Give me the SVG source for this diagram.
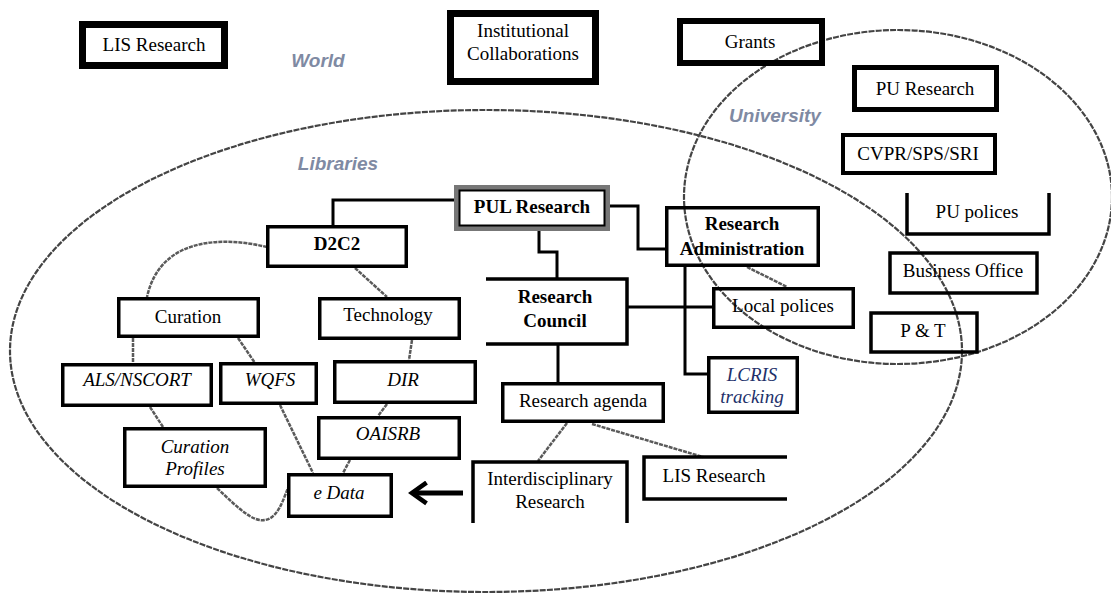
<svg xmlns="http://www.w3.org/2000/svg" width="1111" height="594" viewBox="0 0 1111 594">
<style>
  .bg{fill:#fff}
  .region{fill:none;stroke:#444;stroke-width:2.2;stroke-dasharray:6 1.2}
  .rlabel{font-family:"Liberation Sans",Arial,sans-serif;font-weight:bold;font-style:italic;font-size:19px;fill:#7f8aa3;text-anchor:middle}
  .box{fill:none;stroke:#000;stroke-width:3.5}
  .thick{fill:none;stroke:#000;stroke-width:7}
  .t{font-family:"Liberation Serif","Times New Roman",serif;font-size:19px;fill:#000;text-anchor:middle}
  .b{font-weight:bold}
  .i{font-style:italic}
  .tree{fill:none;stroke:#000;stroke-width:3}
  .soft{fill:none;stroke:#5a5a5a;stroke-width:2.5;stroke-dasharray:4 1}
  .arrow{fill:none;stroke:#000;stroke-width:5}
</style>
<defs>
  <marker id="chev" viewBox="0 0 12 12" refX="9.5" refY="6" markerWidth="5" markerHeight="5" markerUnits="strokeWidth" orient="auto">
    <path d="M3,1 L10,6 L3,11" fill="none" stroke="#000" stroke-width="2.2"/>
  </marker>
</defs>
<rect class="bg" x="0" y="0" width="1111" height="594"/>

<g id="regions">
  <ellipse class="region" cx="486" cy="351" rx="476" ry="241"/>
  <ellipse class="region" cx="898" cy="197" rx="214" ry="167"/>
  <text class="rlabel" x="318" y="67">World</text>
  <text class="rlabel" x="338" y="170">Libraries</text>
  <text class="rlabel" x="775" y="122">University</text>
</g>

<g id="connectors">
  <path class="tree" d="M455,200 H333 V226"/>
  <path class="tree" d="M610,206 H638 V249 H665"/>
  <path class="tree" d="M539,231 V252 H557 V279"/>
  <path class="tree" d="M627,307 H712"/>
  <path class="tree" d="M558,344 V382"/>
  <path class="tree" d="M685,267 V374 H707"/>
  <path class="soft" d="M267,247 C220,236 160,238 147,297"/>
  <path class="soft" d="M355,268 L387,297"/>
  <path class="soft" d="M133,338 L133,363"/>
  <path class="soft" d="M238,338 L255,363"/>
  <path class="soft" d="M412,340 L409,360"/>
  <path class="soft" d="M150,407 L163,427"/>
  <path class="soft" d="M280,405 L313,473"/>
  <path class="soft" d="M387,404 L378,416"/>
  <path class="soft" d="M350,460 L343,473"/>
  <path class="soft" d="M217,488 C240,510 253,522 265,520 C278,518 283,500 288,488"/>
  <path class="soft" d="M567,423 L538,461"/>
  <path class="soft" d="M592,424 L703,457"/>
  <path class="soft" d="M747,267 L787,287"/>
  <path class="arrow" d="M463,493 H413" marker-end="url(#chev)"/>
</g>

<g id="lis-research-top">
  <rect class="thick" x="82.5" y="24.5" width="142" height="41"/>
  <text class="t" x="154" y="51">LIS Research</text>
</g>
<g id="institutional-collaborations">
  <rect class="thick" x="450.5" y="13.5" width="145" height="68"/>
  <text class="t" x="523" y="37">Institutional</text>
  <text class="t" x="523" y="60">Collaborations</text>
</g>
<g id="grants">
  <rect class="box" x="680" y="21" width="142" height="42" style="stroke-width:6"/>
  <text class="t" x="750" y="48">Grants</text>
</g>
<g id="pu-research">
  <rect class="box" x="854.5" y="67.5" width="142" height="42" style="stroke-width:5"/>
  <text class="t" x="925" y="95">PU Research</text>
</g>
<g id="cvpr">
  <rect class="box" x="843" y="135" width="152" height="38" style="stroke-width:4"/>
  <text class="t" x="918" y="160">CVPR/SPS/SRI</text>
</g>
<g id="pu-polices">
  <path class="box" d="M907,193 V234 H1049 V193"/>
  <text class="t" x="977" y="218">PU polices</text>
</g>
<g id="business-office">
  <rect class="box" x="890" y="253" width="147" height="40"/>
  <text class="t" x="963" y="277">Business Office</text>
</g>
<g id="p-and-t">
  <rect class="box" x="871" y="313" width="106" height="39"/>
  <text class="t" x="923" y="337">P &amp; T</text>
</g>
<g id="pul-research">
  <rect x="456.5" y="187.5" width="151" height="41" fill="none" stroke="#777" stroke-width="5"/>
  <rect x="459.5" y="190.5" width="145" height="35" fill="none" stroke="#000" stroke-width="2"/>
  <text class="t b" x="532" y="213">PUL Research</text>
</g>
<g id="d2c2">
  <rect class="box" x="267.75" y="226.75" width="138.5" height="39.5"/>
  <text class="t b" x="337" y="250">D2C2</text>
</g>
<g id="research-administration">
  <rect class="box" x="666.75" y="207.75" width="151.5" height="57.5"/>
  <text class="t b" x="742" y="230">Research</text>
  <text class="t b" x="742" y="255">Administration</text>
</g>
<g id="research-council">
  <path class="box" d="M486,279 H627 V344 H486"/>
  <text class="t b" x="555" y="303">Research</text>
  <text class="t b" x="555" y="327">Council</text>
</g>
<g id="local-polices">
  <rect class="box" x="713.75" y="288.75" width="139.5" height="38.5"/>
  <text class="t" x="783" y="312">Local polices</text>
</g>
<g id="lcris-tracking">
  <rect class="box" x="708.75" y="357.75" width="88.5" height="54.5"/>
  <text class="t i" x="752" y="381" style="fill:#22306a">LCRIS</text>
  <text class="t i" x="752" y="403" style="fill:#22306a">tracking</text>
</g>
<g id="research-agenda">
  <rect class="box" x="502.75" y="383.75" width="160.5" height="37.5"/>
  <text class="t" x="583" y="407">Research agenda</text>
</g>
<g id="interdisciplinary-research">
  <path class="box" d="M473,523 V462 H627 V523"/>
  <text class="t" x="550" y="485">Interdisciplinary</text>
  <text class="t" x="550" y="508">Research</text>
</g>
<g id="lis-research-bottom">
  <path class="box" d="M787,457 H644 V499 H787"/>
  <text class="t" x="714" y="482">LIS Research</text>
</g>
<g id="curation">
  <rect class="box" x="118.75" y="298.75" width="139.5" height="37.5"/>
  <text class="t" x="188" y="323">Curation</text>
</g>
<g id="technology">
  <rect class="box" x="319.75" y="298.75" width="139.5" height="39.5"/>
  <text class="t" x="388" y="321">Technology</text>
</g>
<g id="als-nscort">
  <rect class="box" x="62.75" y="364.75" width="148.5" height="40.5"/>
  <text class="t i" x="137" y="386">ALS/NSCORT</text>
</g>
<g id="wqfs">
  <rect class="box" x="220.75" y="363.75" width="95.5" height="39.5"/>
  <text class="t i" x="270" y="386">WQFS</text>
</g>
<g id="dir">
  <rect class="box" x="334.75" y="361.75" width="140.5" height="40.5"/>
  <text class="t i" x="403" y="386">DIR</text>
</g>
<g id="curation-profiles">
  <rect class="box" x="124.75" y="428.75" width="140.5" height="57.5"/>
  <text class="t i" x="195" y="453">Curation</text>
  <text class="t i" x="195" y="475">Profiles</text>
</g>
<g id="oaisrb">
  <rect class="box" x="318.75" y="417.75" width="140.5" height="40.5"/>
  <text class="t i" x="388" y="440">OAISRB</text>
</g>
<g id="e-data">
  <rect class="box" x="288.75" y="474.75" width="102.5" height="41.5"/>
  <text class="t i" x="339" y="499">e Data</text>
</g>
</svg>
